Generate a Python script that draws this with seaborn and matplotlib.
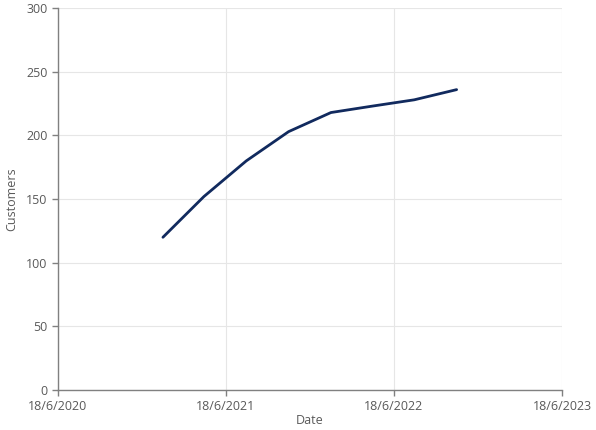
import pandas as pd
import numpy as np
import seaborn as sns
import matplotlib.pyplot as plt
import matplotlib.dates as mdates

# data (quarterly points)
dates = ['2021-02-01', '2021-05-01', '2021-08-01', '2021-11-01',
         '2022-02-01', '2022-05-01', '2022-08-01', '2022-11-01']
customers = [120, 152, 180, 203, 218, 223, 228, 236]
tick_dates = ['2020-06-18', '2021-06-18', '2022-06-18', '2023-06-18']

df = pd.DataFrame({'Date': pd.to_datetime(dates), 'Customers': customers})
ticks = pd.to_datetime(tick_dates)

sns.set_style("white")
plt.rcParams['font.family'] = ['Open Sans', 'DejaVu Sans']

fig = plt.figure(figsize=(5.96, 4.30), dpi=100)
ax = fig.add_axes([0.0973, 0.093, 0.8457, 0.888])

sns.lineplot(data=df, x='Date', y='Customers', ax=ax, color='#112a5e', linewidth=2.0)

ax.set_xlim(ticks[0], ticks[-1])
ax.set_ylim(0, 300)
ax.set_xticks(ticks)
ax.xaxis.set_major_formatter(plt.FuncFormatter(
    lambda v, p: (lambda d: f"{d.day}/{d.month}/{d.year}")(mdates.num2date(v))))
ax.set_yticks(np.arange(0, 301, 50))

ax.grid(True, color='#e6e6e6', linewidth=0.8)
ax.set_axisbelow(True)
for s in ['top', 'right']:
    ax.spines[s].set_visible(False)
for s in ['left', 'bottom']:
    ax.spines[s].set_color('#808080')
    ax.spines[s].set_linewidth(1.0)
ax.tick_params(axis='both', colors='#808080', labelcolor='#595959', labelsize=9,
               length=4, width=1.0, direction='out', left=True, bottom=True)
ax.tick_params(axis='x', pad=3)
ax.set_xlabel('Date', color='#595959', fontsize=9, labelpad=1)
ax.set_ylabel('Customers', color='#595959', fontsize=9, labelpad=6)

fig.savefig('out.png', dpi=100)
